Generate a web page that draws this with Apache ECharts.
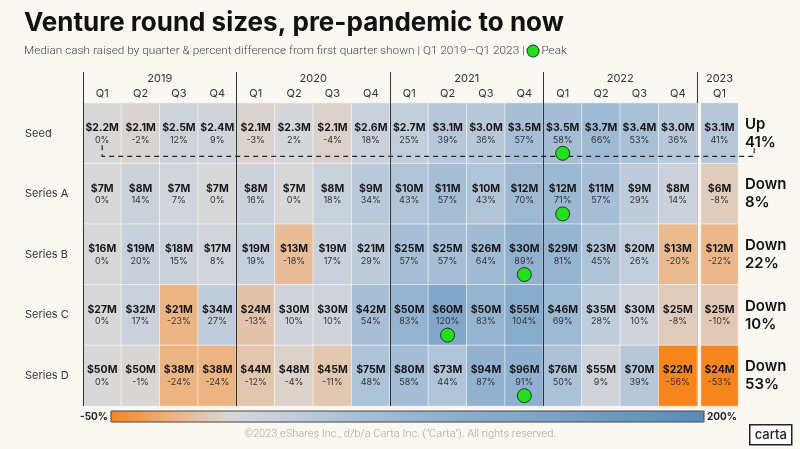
<!DOCTYPE html>
<html>
<head>
<meta charset="utf-8">
<script src="https://cdn.jsdelivr.net/npm/echarts@6/dist/echarts.min.js"></script>
<style>
html,body{margin:0;padding:0;background:#fbf8f3;}
#c{width:800px;height:449px;}
</style>
</head>
<body>
<div id="c"></div>
<script>
// ---------- data ----------
const years = ['2019', '2020', '2021', '2022'];
const quarters = ['Q1','Q2','Q3','Q4','Q1','Q2','Q3','Q4','Q1','Q2','Q3','Q4','Q1','Q2','Q3','Q4'];
const lastYear = ['2023'];
const lastQuarter = ['Q1'];
const rounds = ['Seed', 'Series A', 'Series B', 'Series C', 'Series D'];
const amountDecimals = [1, 0, 0, 0, 0];

// median cash raised ($M), Q1 2019 ... Q1 2023 (17 quarters)
const seedAmt    = [2.2, 2.1, 2.5, 2.4, 2.1, 2.3, 2.1, 2.6, 2.7, 3.1, 3.0, 3.5, 3.5, 3.7, 3.4, 3.0, 3.1];
const seriesAAmt = [7, 8, 7, 7, 8, 7, 8, 9, 10, 11, 10, 12, 12, 11, 9, 8, 6];
const seriesBAmt = [16, 19, 18, 17, 19, 13, 19, 21, 25, 25, 26, 30, 29, 23, 20, 13, 12];
const seriesCAmt = [27, 32, 21, 34, 24, 30, 30, 42, 50, 60, 50, 55, 46, 35, 30, 25, 25];
const seriesDAmt = [50, 50, 38, 38, 44, 48, 45, 75, 80, 73, 94, 96, 76, 55, 70, 22, 24];

// percent difference from Q1 2019
const seedPct    = [0, -2, 12, 9, -3, 2, -4, 18, 25, 39, 36, 57, 58, 66, 53, 36, 41];
const seriesAPct = [0, 14, 7, 0, 16, 0, 18, 34, 43, 57, 43, 70, 71, 57, 29, 14, -8];
const seriesBPct = [0, 20, 15, 8, 19, -18, 17, 29, 57, 57, 64, 89, 81, 45, 26, -20, -22];
const seriesCPct = [0, 17, -23, 27, -13, 10, 10, 54, 83, 120, 83, 104, 69, 28, 10, -8, -10];
const seriesDPct = [0, -1, -24, -24, -12, -4, -11, 48, 58, 44, 87, 91, 50, 9, 39, -56, -53];

// peak quarter index (0 = Q1 2019) per round
const peakIndex = [12, 12, 11, 9, 11];

// color scale ticks
const scaleMin = -50;
const scaleMax = 200;

// ---------- build ----------
const amounts = [seedAmt, seriesAAmt, seriesBAmt, seriesCAmt, seriesDAmt];
const pcts = [seedPct, seriesAPct, seriesBPct, seriesCPct, seriesDPct];
const nMain = quarters.length;

const mainData = [];
const lastData = [];
rounds.forEach((r, ri) => {
  amounts[ri].forEach((a, qi) => {
    const lbl = '$' + a.toFixed(amountDecimals[ri]) + 'M';
    if (qi < nMain) mainData.push([qi, ri, pcts[ri][qi], lbl]);
    else lastData.push([0, ri, pcts[ri][qi], lbl]);
  });
});
const summary = rounds.map((r, ri) => {
  const v = pcts[ri][nMain];
  return (v >= 0 ? 'Up' : 'Down') + '\n' + Math.abs(v) + '%';
});
const peakData = peakIndex.map((qi, ri) => [qi, ri]);

const FONT = 'Inter, "Noto Sans", sans-serif';
const GAP = 4;

const cellLabel = {
  show: true,
  formatter: p => '{v|' + p.data[3] + '}\n{p|' + p.data[2] + '%}',
  rich: {
    v: { fontSize: 10.5, fontWeight: 700, color: '#161616', fontFamily: FONT, lineHeight: 13 },
    p: { fontSize: 9, color: '#333', fontFamily: FONT, lineHeight: 11 }
  }
};

const chart = echarts.init(document.getElementById('c'));
chart.setOption({
  backgroundColor: '#fbf8f3',
  animation: false,
  title: {
    left: 19, top: 5,
    text: 'Venture round sizes, pre-pandemic to now',
    textStyle: { fontSize: 26, fontWeight: 700, color: '#111', fontFamily: FONT },
    subtext: 'Median cash raised by quarter & percent difference from first quarter shown | Q1 2019—Q1 2023 | {dot|} Peak',
    subtextStyle: {
      fontSize: 11.8, color: '#444', fontFamily: 'Roboto, sans-serif', fontWeight: 300,
      rich: { dot: { width: 11, height: 11, borderRadius: 6, backgroundColor: '#22e01c', borderColor: '#333', borderWidth: 1 } }
    },
    itemGap: 9
  },
  grid: [
    { left: 83, right: 103, top: 103, bottom: 43 },
    { left: 701, width: 37, top: 103, bottom: 43 }
  ],
  xAxis: [
    { gridIndex: 0, type: 'category', data: quarters, position: 'top',
      axisLine: { show: false }, axisTick: { show: false }, splitLine: { show: false },
      axisLabel: { margin: 4, fontSize: 11, color: '#333', fontFamily: FONT } },
    { gridIndex: 0, type: 'category', data: years, position: 'top', z: 5,
      axisLine: { show: false },
      axisTick: { show: true, length: 31, lineStyle: { color: '#333', width: 1 } },
      splitLine: { show: true, lineStyle: { color: ['#333', '#333', '#333', '#333', '#bdbdbd'], width: 1 } },
      axisLabel: { margin: 19, fontSize: 11, color: '#333', fontFamily: FONT } },
    { gridIndex: 1, type: 'category', data: lastQuarter, position: 'top',
      axisLine: { show: false }, axisTick: { show: false }, splitLine: { show: false },
      axisLabel: { margin: 4, fontSize: 11, color: '#333', fontFamily: FONT } },
    { gridIndex: 1, type: 'category', data: lastYear, position: 'top',
      axisLine: { show: false }, axisTick: { show: false }, splitLine: { show: false },
      axisLabel: { margin: 19, fontSize: 11, color: '#333', fontFamily: FONT } }
  ],
  yAxis: [
    { gridIndex: 0, type: 'category', data: rounds, inverse: true,
      axisLine: { show: false }, axisTick: { show: false }, splitLine: { show: false },
      axisLabel: { align: 'left', margin: 58, fontSize: 11, color: '#333', fontFamily: FONT } },
    { gridIndex: 1, type: 'category', data: summary, inverse: true, position: 'right',
      axisLine: { show: false }, axisTick: { show: false }, splitLine: { show: false },
      axisLabel: { align: 'left', margin: 7, fontSize: 15, fontWeight: 600, color: '#111',
        lineHeight: 18, fontFamily: FONT } }
  ],
  visualMap: {
    type: 'continuous', seriesIndex: [0, 1], dimension: 2,
    min: scaleMin, max: scaleMax,
    orient: 'horizontal', left: 65, top: 396,
    itemWidth: 11, itemHeight: 593,
    text: [scaleMax + '%', scaleMin + '%'], textGap: 3,
    textStyle: { fontSize: 10, fontWeight: 700, color: '#222', fontFamily: FONT },
    calculable: false, hoverLink: false,
    inRange: { color: ['#f7861f', '#eeb27f', '#d8d8d9', '#c3cedb', '#abc2d7', '#99b7d2',
                       '#8aadcd', '#80a6c9', '#749dc3', '#6894bd', '#5b8ab6'] },
    outOfRange: { color: '#f7861f' }
  },
  graphic: [
    { type: 'text', left: 'center', top: 429,
      style: { text: '©2023 eShares Inc., d/b/a Carta Inc. ("Carta"). All rights reserved.',
        fill: '#a8a6a2', fontSize: 11, fontFamily: 'Roboto, sans-serif', fontWeight: 300 } },
    { type: 'group', left: 749, top: 424, children: [
      { type: 'rect', shape: { x: 0, y: 0, width: 42, height: 20 },
        style: { fill: '#fff', stroke: '#222', lineWidth: 1.5 } },
      { type: 'text', style: { x: 21, y: 10, text: 'carta', align: 'center', verticalAlign: 'middle',
        fill: '#222', fontSize: 13, fontFamily: FONT, fontWeight: 500 } }
    ] }
  ],
  series: [
    { type: 'heatmap', xAxisIndex: 0, yAxisIndex: 0, data: mainData,
      itemStyle: { borderColor: 'rgba(255,255,255,0.55)', borderWidth: 1 },
      label: cellLabel, emphasis: { disabled: true } },
    { type: 'heatmap', xAxisIndex: 2, yAxisIndex: 1, data: lastData,
      itemStyle: { borderColor: 'rgba(255,255,255,0.55)', borderWidth: 1 },
      label: cellLabel, emphasis: { disabled: true } },
    { type: 'custom', xAxisIndex: 0, yAxisIndex: 0, z: 6, silent: true,
      data: [[0, 0]],
      renderItem: (params, api) => {
        const p0 = api.coord([0, 0]);
        const p15 = api.coord([nMain - 1, 0]);
        const w = api.size([1, 1])[0];
        const y0 = p0[1] + 23;
        const xEnd = p15[0] + w + GAP + 34;
        return { type: 'polyline',
          shape: { points: [[p0[0], y0 - 11], [p0[0], y0], [xEnd, y0], [xEnd, y0 - 10]] },
          style: { stroke: '#222', lineWidth: 1.2, lineDash: [5, 4], fill: null } };
      } },
    { type: 'scatter', xAxisIndex: 0, yAxisIndex: 0, z: 8, silent: true,
      data: peakData, symbol: 'circle', symbolSize: 14, symbolOffset: [0, 20],
      itemStyle: { color: '#22e01c', borderColor: '#1d3b1d', borderWidth: 1, opacity: 1 } }
  ]
});
// thin dark outline round the colour bar, placed from the visual map's own layout
setTimeout(() => {
  const vm = chart.getModel().getComponent('visualMap');
  const view = chart.getViewOfComponentModel(vm);
  if (!view) return;
  let bar = null;
  view.group.traverse(el => {
    if (!bar && el.type === 'polygon' && el.shape && el.shape.points && el.shape.points.length === 4) bar = el;
  });
  if (!bar) return;
  const br = bar.getBoundingRect().clone();
  br.applyTransform(bar.getComputedTransform());
  chart.setOption({ graphic: [{ id: 'vmBorder', type: 'rect', z: 100,
    shape: { x: br.x, y: br.y, width: br.width, height: br.height },
    style: { fill: 'none', stroke: '#444', lineWidth: 1 } }] });
}, 0);
</script>
</body>
</html>
